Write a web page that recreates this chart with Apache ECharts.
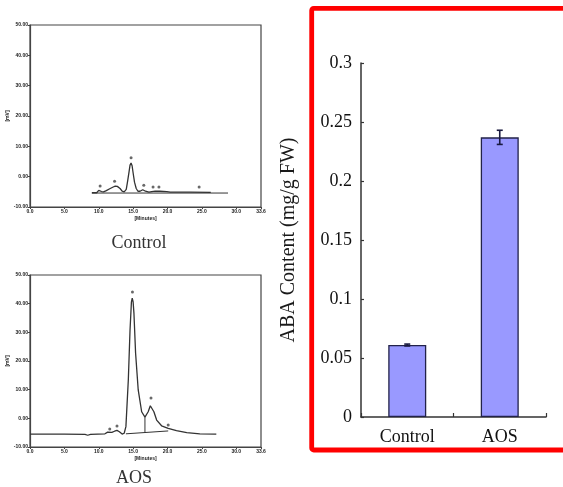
<!DOCTYPE html>
<html>
<head>
<meta charset="utf-8">
<script src="https://cdn.jsdelivr.net/npm/echarts@6/dist/echarts.min.js"></script>
<style>
html,body{margin:0;padding:0;background:#fff;}
#chart{width:563px;height:487px;}
</style>
</head>
<body>
<div id="chart"></div>
<script>
// ---- Bar chart data ----
const categories = ['Control', 'AOS'];
const abaValues = [0.061, 0.237];
const abaErrors = [0.0008, 0.006];
const barYTickLabels = ['0', '0.05', '0.1', '0.15', '0.2', '0.25', '0.3'];

// ---- Chromatogram data ([minutes, mV]) ----
const chromXTicks = ['0.0', '5.0', '10.0', '15.0', '20.0', '25.0', '30.0', '33.6'];
const chromYTicks = ['-10.00', '0.00', '10.00', '20.00', '30.00', '40.00', '50.00'];

const controlTrace = [[9.0,-5.3],[9.7,-5.3],[10.0,-4.5],[10.2,-4.3],[10.4,-4.9],[10.7,-5.0],[11.1,-4.6],[11.6,-4.0],[12.1,-3.4],[12.4,-3.1],[12.7,-3.2],[13.1,-3.9],[13.4,-4.8],[13.7,-5.0],[14.0,-4.2],[14.2,-1.5],[14.4,1.5],[14.55,3.8],[14.7,4.5],[14.85,3.6],[15.0,1.2],[15.2,-1.8],[15.45,-3.9],[15.7,-4.8],[16.0,-4.8],[16.4,-4.3],[16.8,-4.8],[17.3,-5.1],[17.7,-4.9],[18.2,-4.8],[18.9,-4.8],[19.9,-4.9],[20.4,-5.1],[23.3,-5.1],[26.3,-5.2]];
const controlBaseline = [[9.0,-5.4],[28.8,-5.4]];
const controlPeakMarks = [[10.2,-3.1],[12.3,-1.5],[14.7,6.2],[16.55,-2.8],[17.9,-3.4],[18.75,-3.4],[24.6,-3.4]];

const aosTrace = [[0,-5.5],[5,-5.5],[8.0,-5.6],[8.4,-5.9],[8.8,-5.6],[10.9,-5.4],[11.3,-4.8],[11.9,-4.9],[12.3,-4.5],[12.65,-4.2],[13.0,-4.7],[13.4,-5.5],[13.7,-5.2],[13.95,-2.9],[14.3,13.4],[14.55,30.8],[14.75,40.5],[14.87,41.9],[15.0,40.6],[15.12,36.6],[15.36,22.7],[15.74,9.9],[16.24,2.3],[16.72,0.4],[17.19,2.3],[17.5,4.4],[17.69,5.0],[18.02,2.3],[18.42,-0.6],[19.14,-2.6],[20.1,-3.5],[21.3,-4.3],[22.8,-5.0],[24.7,-5.4],[27.1,-5.5]];
const aosBaseline = [[13.95,-5.4],[20.1,-4.4]];
const aosDropLine = [[16.72,0.4],[16.72,-4.9]];
const aosPeakMarks = [[11.6,-3.7],[12.65,-2.7],[14.9,44.1],[17.6,7.1],[20.1,-2.3]];

const serif = '"Liberation Serif", "Times New Roman", serif';

function chromX(gridIndex) {
  return {
    type: 'value', gridIndex: gridIndex, min: 0, max: 33.6, interval: 5,
    name: '[Minutes]', nameLocation: 'middle', nameGap: 9,
    nameTextStyle: {fontSize: 5, fontWeight: 'bold', color: '#222'},
    axisLine: {show: true, onZero: false, lineStyle: {color: '#444', width: 1.2}},
    axisTick: {show: true, length: 2, lineStyle: {color: '#444'}},
    splitLine: {show: false},
    axisLabel: {fontSize: 5, fontWeight: 'bold', color: '#222', margin: 2, showMaxLabel: true,
      formatter: (v, i) => chromXTicks[i] !== undefined ? chromXTicks[i] : ''}
  };
}
function chromY(gridIndex) {
  return {
    type: 'value', gridIndex: gridIndex, min: -10, max: 50, interval: 10,
    name: '[mV]', nameLocation: 'middle', nameGap: 15, nameRotate: 90,
    nameTextStyle: {fontSize: 5, fontWeight: 'bold', color: '#222'},
    axisLine: {show: true, onZero: false, lineStyle: {color: '#444', width: 1.2}},
    axisTick: {show: true, length: 2, lineStyle: {color: '#444'}},
    splitLine: {show: false},
    axisLabel: {fontSize: 5, fontWeight: 'bold', color: '#222', margin: 2,
      formatter: (v, i) => chromYTicks[i] !== undefined ? chromYTicks[i] : ''}
  };
}
function traceSeries(data, idx, w) {
  return {type: 'line', xAxisIndex: idx, yAxisIndex: idx, data: data, symbol: 'none',
    lineStyle: {color: '#333', width: w}, silent: true, animation: false};
}
function markSeries(data, idx) {
  return {type: 'scatter', xAxisIndex: idx, yAxisIndex: idx, data: data, symbol: 'circle',
    symbolSize: 3, itemStyle: {color: '#444'}, silent: true, animation: false};
}

const chart = echarts.init(document.getElementById('chart'), null, {renderer: 'canvas'});
const option = {
  backgroundColor: '#ffffff',
  animation: false,
  grid: [
    {left: 30, top: 25, width: 231, height: 182, show: true, borderColor: '#444', borderWidth: 1.2, backgroundColor: 'transparent'},
    {left: 30, top: 275, width: 231, height: 172, show: true, borderColor: '#444', borderWidth: 1.2, backgroundColor: 'transparent'},
    {left: 361, top: 63, width: 185, height: 354}
  ],
  xAxis: [
    chromX(0), chromX(1),
    {
      type: 'category', gridIndex: 2, data: categories,
      axisLine: {show: true, lineStyle: {color: '#333', width: 1.5}},
      axisTick: {show: true, inside: true, length: 4, lineStyle: {color: '#333', width: 1.2}},
      axisLabel: {fontFamily: serif, fontSize: 18, color: '#111', margin: 11}
    }
  ],
  yAxis: [
    chromY(0), chromY(1),
    {
      type: 'value', gridIndex: 2, min: 0, max: 0.3, interval: 0.05,
      name: 'ABA Content (mg/g FW)', nameLocation: 'middle', nameGap: 62, nameRotate: 90,
      nameTextStyle: {fontFamily: serif, fontSize: 20, color: '#1a1a1a'},
      axisLine: {show: true, lineStyle: {color: '#333', width: 1.5}},
      axisTick: {show: true, inside: true, length: 3, lineStyle: {color: '#333', width: 1.2}},
      splitLine: {show: false},
      axisLabel: {fontFamily: serif, fontSize: 18, color: '#111', margin: 9,
        formatter: (v, i) => barYTickLabels[i]}
    }
  ],
  series: [
    traceSeries(controlBaseline, 0, 1),
    traceSeries(controlTrace, 0, 1.3),
    markSeries(controlPeakMarks, 0),
    traceSeries(aosBaseline, 1, 1),
    traceSeries(aosDropLine, 1, 1),
    traceSeries(aosTrace, 1, 1.3),
    markSeries(aosPeakMarks, 1),
    {
      type: 'bar', xAxisIndex: 2, yAxisIndex: 2, data: abaValues, barWidth: 38,
      itemStyle: {color: '#9999ff', borderColor: '#22224a', borderWidth: 1.3},
      silent: true
    },
    {
      type: 'custom', xAxisIndex: 2, yAxisIndex: 2,
      data: abaValues.map((v, i) => [i, v, abaErrors[i]]),
      renderItem: function (params, api) {
        const i = api.value(0), v = api.value(1), e = api.value(2);
        const top = api.coord([i, v + e]);
        const bot = api.coord([i, v - e]);
        const hw = 3;
        const st = {stroke: '#1a1a40', lineWidth: 1.6};
        return {type: 'group', children: [
          {type: 'line', shape: {x1: top[0], y1: top[1], x2: bot[0], y2: bot[1]}, style: st},
          {type: 'line', shape: {x1: top[0] - hw, y1: top[1], x2: top[0] + hw, y2: top[1]}, style: st},
          {type: 'line', shape: {x1: bot[0] - hw, y1: bot[1], x2: bot[0] + hw, y2: bot[1]}, style: st}
        ]};
      },
      z: 5, silent: true
    }
  ],
  graphic: [
    {type: 'text', x: 139, y: 243, style: {text: 'Control', fontFamily: serif, fontSize: 18, fill: '#333', align: 'center', verticalAlign: 'middle'}},
    {type: 'text', x: 134, y: 478, style: {text: 'AOS', fontFamily: serif, fontSize: 18, fill: '#333', align: 'center', verticalAlign: 'middle'}},
    {type: 'rect', shape: {x: 311.7, y: 8.4, width: 300, height: 441.6, r: 2}, style: {fill: 'none', stroke: '#ff0000', lineWidth: 4.8}, z: 100, silent: true}
  ]
};
chart.setOption(option);
</script>
</body>
</html>
